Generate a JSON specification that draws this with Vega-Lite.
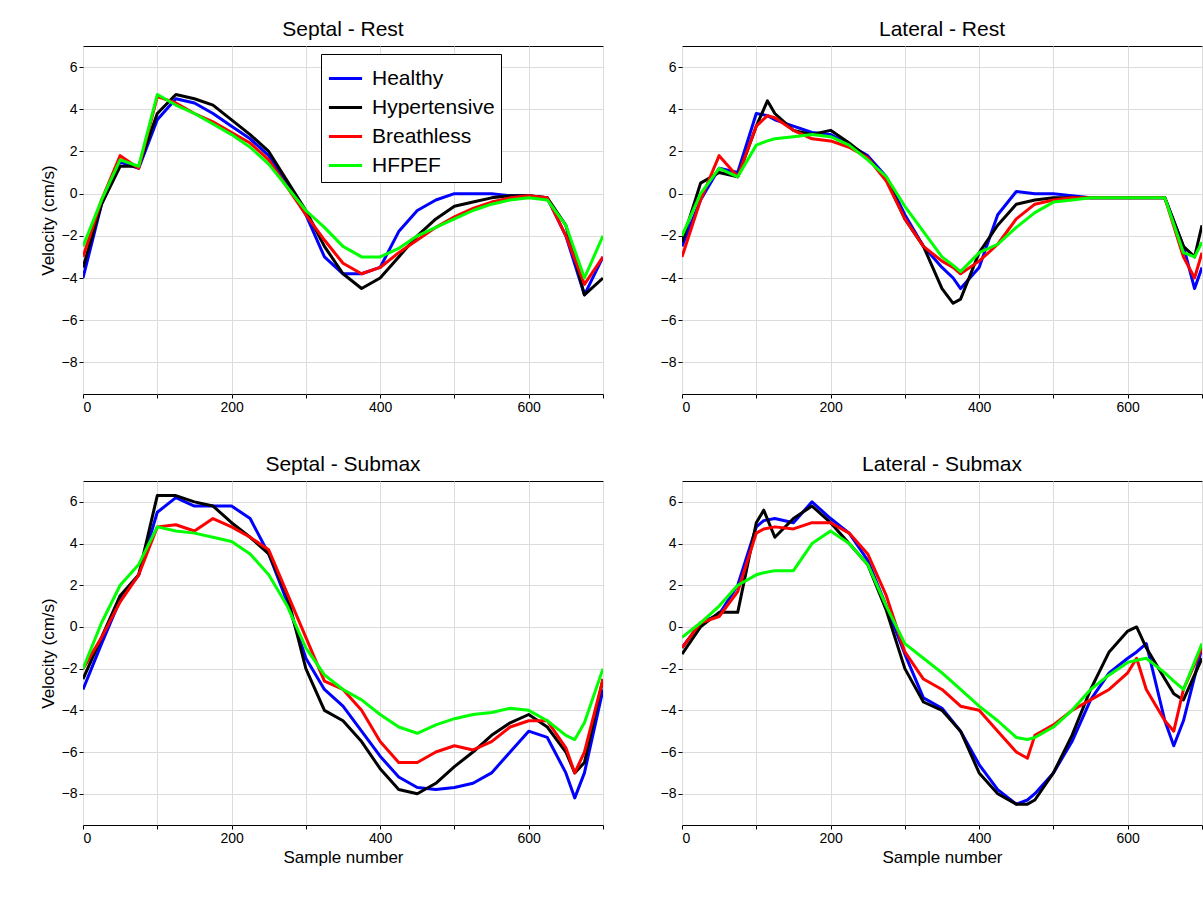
{
  "$schema": "https://vega.github.io/schema/vega-lite/v6.json",
  "padding": {"left": 38, "top": 18, "right": 0, "bottom": 0},
  "spacing": 38,
  "config": {
    "font": "Liberation Sans",
    "view": {"stroke": "#000", "strokeWidth": 1},
    "title": {"fontSize": 21, "fontWeight": "normal", "offset": 6},
    "axis": {"labelFontSize": 14, "titleFontSize": 17, "titleFontWeight": "normal", "gridColor": "#dcdcdc", "domain": false, "tickColor": "#000", "tickSize": 4, "labelColor": "#000"},
    "concat": {"spacing": 55},
    "line": {"strokeWidth": 3, "strokeJoin": "round"}
  },
  "data": {"values": [
    {"p":"SR","x":0,"Healthy":-4,"Hypertensive":-3.5,"Breathless":-3,"HFPEF":-2.5},
    {"p":"SR","x":25,"Healthy":-0.5,"Hypertensive":-0.5,"Breathless":-0.3,"HFPEF":-0.3},
    {"p":"SR","x":50,"Healthy":1.5,"Hypertensive":1.3,"Breathless":1.8,"HFPEF":1.6},
    {"p":"SR","x":75,"Healthy":1.2,"Hypertensive":1.3,"Breathless":1.2,"HFPEF":1.3},
    {"p":"SR","x":100,"Healthy":3.5,"Hypertensive":3.8,"Breathless":4.6,"HFPEF":4.7},
    {"p":"SR","x":125,"Healthy":4.5,"Hypertensive":4.7,"Breathless":4.3,"HFPEF":4.2},
    {"p":"SR","x":150,"Healthy":4.3,"Hypertensive":4.5,"Breathless":3.8,"HFPEF":3.8},
    {"p":"SR","x":175,"Healthy":3.8,"Hypertensive":4.2,"Breathless":3.4,"HFPEF":3.3},
    {"p":"SR","x":200,"Healthy":3.2,"Hypertensive":3.5,"Breathless":2.9,"HFPEF":2.8},
    {"p":"SR","x":225,"Healthy":2.6,"Hypertensive":2.8,"Breathless":2.4,"HFPEF":2.2},
    {"p":"SR","x":250,"Healthy":1.8,"Hypertensive":2,"Breathless":1.6,"HFPEF":1.4},
    {"p":"SR","x":275,"Healthy":0.5,"Hypertensive":0.6,"Breathless":0.3,"HFPEF":0.3},
    {"p":"SR","x":300,"Healthy":-1,"Hypertensive":-0.8,"Breathless":-1,"HFPEF":-0.8},
    {"p":"SR","x":325,"Healthy":-3,"Hypertensive":-2.5,"Breathless":-2.2,"HFPEF":-1.6},
    {"p":"SR","x":350,"Healthy":-3.8,"Hypertensive":-3.8,"Breathless":-3.3,"HFPEF":-2.5},
    {"p":"SR","x":375,"Healthy":-3.8,"Hypertensive":-4.5,"Breathless":-3.8,"HFPEF":-3},
    {"p":"SR","x":400,"Healthy":-3.5,"Hypertensive":-4,"Breathless":-3.5,"HFPEF":-3},
    {"p":"SR","x":425,"Healthy":-1.8,"Hypertensive":-3,"Breathless":-2.8,"HFPEF":-2.6},
    {"p":"SR","x":450,"Healthy":-0.8,"Hypertensive":-2,"Breathless":-2.2,"HFPEF":-2},
    {"p":"SR","x":475,"Healthy":-0.3,"Hypertensive":-1.2,"Breathless":-1.6,"HFPEF":-1.6},
    {"p":"SR","x":500,"Healthy":0,"Hypertensive":-0.6,"Breathless":-1.1,"HFPEF":-1.2},
    {"p":"SR","x":525,"Healthy":0,"Hypertensive":-0.4,"Breathless":-0.7,"HFPEF":-0.8},
    {"p":"SR","x":550,"Healthy":0,"Hypertensive":-0.2,"Breathless":-0.4,"HFPEF":-0.5},
    {"p":"SR","x":575,"Healthy":-0.1,"Hypertensive":-0.1,"Breathless":-0.2,"HFPEF":-0.3},
    {"p":"SR","x":600,"Healthy":-0.1,"Hypertensive":-0.1,"Breathless":-0.1,"HFPEF":-0.2},
    {"p":"SR","x":625,"Healthy":-0.2,"Hypertensive":-0.2,"Breathless":-0.2,"HFPEF":-0.3},
    {"p":"SR","x":650,"Healthy":-2,"Hypertensive":-1.5,"Breathless":-2,"HFPEF":-1.5},
    {"p":"SR","x":675,"Healthy":-4.8,"Hypertensive":-4.8,"Breathless":-4.3,"HFPEF":-4},
    {"p":"SR","x":700,"Healthy":-3,"Hypertensive":-4,"Breathless":-3,"HFPEF":-2},

    {"p":"LR","x":0,"Healthy":-2.5,"Hypertensive":-2.3,"Breathless":-3,"HFPEF":-2},
    {"p":"LR","x":25,"Healthy":-0.3,"Hypertensive":0.5,"Breathless":-0.3,"HFPEF":0},
    {"p":"LR","x":50,"Healthy":1.2,"Hypertensive":1,"Breathless":1.8,"HFPEF":1.2},
    {"p":"LR","x":75,"Healthy":1,"Hypertensive":0.8,"Breathless":0.8,"HFPEF":0.8},
    {"p":"LR","x":100,"Healthy":3.8,"Hypertensive":3.2,"Breathless":3.2,"HFPEF":2.3},
    {"p":"LR","x":115,"Healthy":3.7,"Hypertensive":4.4,"Breathless":3.7,"HFPEF":2.5},
    {"p":"LR","x":125,"Healthy":3.5,"Hypertensive":3.8,"Breathless":3.6,"HFPEF":2.6},
    {"p":"LR","x":150,"Healthy":3.2,"Hypertensive":3,"Breathless":3,"HFPEF":2.7},
    {"p":"LR","x":175,"Healthy":2.9,"Hypertensive":2.8,"Breathless":2.6,"HFPEF":2.8},
    {"p":"LR","x":200,"Healthy":2.8,"Hypertensive":3,"Breathless":2.5,"HFPEF":2.7},
    {"p":"LR","x":225,"Healthy":2.3,"Hypertensive":2.4,"Breathless":2.2,"HFPEF":2.3},
    {"p":"LR","x":250,"Healthy":1.8,"Hypertensive":1.7,"Breathless":1.7,"HFPEF":1.6},
    {"p":"LR","x":275,"Healthy":0.8,"Hypertensive":0.7,"Breathless":0.6,"HFPEF":0.8},
    {"p":"LR","x":300,"Healthy":-1,"Hypertensive":-1.2,"Breathless":-1.2,"HFPEF":-0.6},
    {"p":"LR","x":325,"Healthy":-2.5,"Hypertensive":-2.5,"Breathless":-2.5,"HFPEF":-1.8},
    {"p":"LR","x":350,"Healthy":-3.5,"Hypertensive":-4.5,"Breathless":-3.2,"HFPEF":-3},
    {"p":"LR","x":365,"Healthy":-4,"Hypertensive":-5.2,"Breathless":-3.5,"HFPEF":-3.4},
    {"p":"LR","x":375,"Healthy":-4.5,"Hypertensive":-5,"Breathless":-3.8,"HFPEF":-3.7},
    {"p":"LR","x":400,"Healthy":-3.5,"Hypertensive":-2.8,"Breathless":-3.2,"HFPEF":-2.8},
    {"p":"LR","x":425,"Healthy":-1,"Hypertensive":-1.5,"Breathless":-2.4,"HFPEF":-2.4},
    {"p":"LR","x":450,"Healthy":0.1,"Hypertensive":-0.5,"Breathless":-1.2,"HFPEF":-1.6},
    {"p":"LR","x":475,"Healthy":0,"Hypertensive":-0.3,"Breathless":-0.5,"HFPEF":-0.9},
    {"p":"LR","x":500,"Healthy":0,"Hypertensive":-0.2,"Breathless":-0.3,"HFPEF":-0.4},
    {"p":"LR","x":525,"Healthy":-0.1,"Hypertensive":-0.2,"Breathless":-0.2,"HFPEF":-0.3},
    {"p":"LR","x":550,"Healthy":-0.2,"Hypertensive":-0.2,"Breathless":-0.2,"HFPEF":-0.2},
    {"p":"LR","x":575,"Healthy":-0.2,"Hypertensive":-0.2,"Breathless":-0.2,"HFPEF":-0.2},
    {"p":"LR","x":600,"Healthy":-0.2,"Hypertensive":-0.2,"Breathless":-0.2,"HFPEF":-0.2},
    {"p":"LR","x":625,"Healthy":-0.2,"Hypertensive":-0.2,"Breathless":-0.2,"HFPEF":-0.2},
    {"p":"LR","x":650,"Healthy":-0.2,"Hypertensive":-0.2,"Breathless":-0.2,"HFPEF":-0.2},
    {"p":"LR","x":675,"Healthy":-2.5,"Hypertensive":-2.5,"Breathless":-3,"HFPEF":-2.8},
    {"p":"LR","x":690,"Healthy":-4.5,"Hypertensive":-3,"Breathless":-4,"HFPEF":-3},
    {"p":"LR","x":700,"Healthy":-3.5,"Hypertensive":-1.5,"Breathless":-2.8,"HFPEF":-2.3},

    {"p":"SS","x":0,"Healthy":-3,"Hypertensive":-2.5,"Breathless":-2,"HFPEF":-2},
    {"p":"SS","x":25,"Healthy":-0.8,"Hypertensive":-0.5,"Breathless":-0.5,"HFPEF":0.2},
    {"p":"SS","x":50,"Healthy":1.3,"Hypertensive":1.5,"Breathless":1.2,"HFPEF":2},
    {"p":"SS","x":75,"Healthy":2.5,"Hypertensive":2.5,"Breathless":2.5,"HFPEF":3},
    {"p":"SS","x":100,"Healthy":5.5,"Hypertensive":6.3,"Breathless":4.8,"HFPEF":4.8},
    {"p":"SS","x":125,"Healthy":6.2,"Hypertensive":6.3,"Breathless":4.9,"HFPEF":4.6},
    {"p":"SS","x":150,"Healthy":5.8,"Hypertensive":6,"Breathless":4.6,"HFPEF":4.5},
    {"p":"SS","x":175,"Healthy":5.8,"Hypertensive":5.8,"Breathless":5.2,"HFPEF":4.3},
    {"p":"SS","x":200,"Healthy":5.8,"Hypertensive":5,"Breathless":4.8,"HFPEF":4.1},
    {"p":"SS","x":225,"Healthy":5.2,"Hypertensive":4.3,"Breathless":4.3,"HFPEF":3.5},
    {"p":"SS","x":250,"Healthy":3.5,"Hypertensive":3.5,"Breathless":3.7,"HFPEF":2.5},
    {"p":"SS","x":275,"Healthy":1.2,"Hypertensive":1.5,"Breathless":1.6,"HFPEF":1},
    {"p":"SS","x":300,"Healthy":-1.5,"Hypertensive":-2,"Breathless":-0.5,"HFPEF":-1},
    {"p":"SS","x":325,"Healthy":-3,"Hypertensive":-4,"Breathless":-2.6,"HFPEF":-2.3},
    {"p":"SS","x":350,"Healthy":-3.8,"Hypertensive":-4.5,"Breathless":-3,"HFPEF":-3},
    {"p":"SS","x":375,"Healthy":-5,"Hypertensive":-5.5,"Breathless":-4,"HFPEF":-3.5},
    {"p":"SS","x":400,"Healthy":-6.2,"Hypertensive":-6.8,"Breathless":-5.5,"HFPEF":-4.2},
    {"p":"SS","x":425,"Healthy":-7.2,"Hypertensive":-7.8,"Breathless":-6.5,"HFPEF":-4.8},
    {"p":"SS","x":450,"Healthy":-7.7,"Hypertensive":-8,"Breathless":-6.5,"HFPEF":-5.1},
    {"p":"SS","x":475,"Healthy":-7.8,"Hypertensive":-7.5,"Breathless":-6,"HFPEF":-4.7},
    {"p":"SS","x":500,"Healthy":-7.7,"Hypertensive":-6.7,"Breathless":-5.7,"HFPEF":-4.4},
    {"p":"SS","x":525,"Healthy":-7.5,"Hypertensive":-6,"Breathless":-5.9,"HFPEF":-4.2},
    {"p":"SS","x":550,"Healthy":-7,"Hypertensive":-5.2,"Breathless":-5.5,"HFPEF":-4.1},
    {"p":"SS","x":575,"Healthy":-6,"Hypertensive":-4.6,"Breathless":-4.8,"HFPEF":-3.9},
    {"p":"SS","x":600,"Healthy":-5,"Hypertensive":-4.2,"Breathless":-4.5,"HFPEF":-4},
    {"p":"SS","x":625,"Healthy":-5.3,"Hypertensive":-4.8,"Breathless":-4.5,"HFPEF":-4.5},
    {"p":"SS","x":650,"Healthy":-7,"Hypertensive":-6,"Breathless":-5.8,"HFPEF":-5.2},
    {"p":"SS","x":662,"Healthy":-8.2,"Hypertensive":-7,"Breathless":-7,"HFPEF":-5.4},
    {"p":"SS","x":675,"Healthy":-7,"Hypertensive":-6.5,"Breathless":-6,"HFPEF":-4.6},
    {"p":"SS","x":700,"Healthy":-3,"Hypertensive":-2.5,"Breathless":-2.5,"HFPEF":-2},

    {"p":"LS","x":0,"Healthy":-1,"Hypertensive":-1.3,"Breathless":-1,"HFPEF":-0.5},
    {"p":"LS","x":25,"Healthy":0.2,"Hypertensive":0,"Breathless":0.2,"HFPEF":0.2},
    {"p":"LS","x":50,"Healthy":0.6,"Hypertensive":0.7,"Breathless":0.5,"HFPEF":1},
    {"p":"LS","x":75,"Healthy":2,"Hypertensive":0.7,"Breathless":1.7,"HFPEF":2},
    {"p":"LS","x":100,"Healthy":4.8,"Hypertensive":5,"Breathless":4.5,"HFPEF":2.5},
    {"p":"LS","x":110,"Healthy":5.1,"Hypertensive":5.6,"Breathless":4.7,"HFPEF":2.6},
    {"p":"LS","x":125,"Healthy":5.2,"Hypertensive":4.3,"Breathless":4.8,"HFPEF":2.7},
    {"p":"LS","x":150,"Healthy":5,"Hypertensive":5.2,"Breathless":4.7,"HFPEF":2.7},
    {"p":"LS","x":175,"Healthy":6,"Hypertensive":5.8,"Breathless":5,"HFPEF":4},
    {"p":"LS","x":200,"Healthy":5.2,"Hypertensive":5,"Breathless":5,"HFPEF":4.6},
    {"p":"LS","x":225,"Healthy":4.5,"Hypertensive":4,"Breathless":4.5,"HFPEF":4},
    {"p":"LS","x":250,"Healthy":3.2,"Hypertensive":3,"Breathless":3.5,"HFPEF":3},
    {"p":"LS","x":275,"Healthy":1,"Hypertensive":0.8,"Breathless":1.5,"HFPEF":1},
    {"p":"LS","x":300,"Healthy":-1.3,"Hypertensive":-2,"Breathless":-1.2,"HFPEF":-0.8},
    {"p":"LS","x":325,"Healthy":-3.4,"Hypertensive":-3.6,"Breathless":-2.5,"HFPEF":-1.5},
    {"p":"LS","x":350,"Healthy":-3.9,"Hypertensive":-4,"Breathless":-3,"HFPEF":-2.2},
    {"p":"LS","x":375,"Healthy":-5,"Hypertensive":-5,"Breathless":-3.8,"HFPEF":-3},
    {"p":"LS","x":400,"Healthy":-6.6,"Hypertensive":-7,"Breathless":-4,"HFPEF":-3.8},
    {"p":"LS","x":425,"Healthy":-7.8,"Hypertensive":-8,"Breathless":-5,"HFPEF":-4.5},
    {"p":"LS","x":450,"Healthy":-8.5,"Hypertensive":-8.5,"Breathless":-6,"HFPEF":-5.3},
    {"p":"LS","x":465,"Healthy":-8.3,"Hypertensive":-8.5,"Breathless":-6.3,"HFPEF":-5.4},
    {"p":"LS","x":475,"Healthy":-8,"Hypertensive":-8.3,"Breathless":-5.2,"HFPEF":-5.3},
    {"p":"LS","x":500,"Healthy":-7,"Hypertensive":-7,"Breathless":-4.7,"HFPEF":-4.8},
    {"p":"LS","x":525,"Healthy":-5.5,"Hypertensive":-5.2,"Breathless":-4,"HFPEF":-4},
    {"p":"LS","x":550,"Healthy":-3.5,"Hypertensive":-3,"Breathless":-3.5,"HFPEF":-3},
    {"p":"LS","x":575,"Healthy":-2.2,"Hypertensive":-1.2,"Breathless":-3,"HFPEF":-2.3},
    {"p":"LS","x":600,"Healthy":-1.5,"Hypertensive":-0.2,"Breathless":-2.2,"HFPEF":-1.7},
    {"p":"LS","x":612,"Healthy":-1.2,"Hypertensive":0,"Breathless":-1.5,"HFPEF":-1.6},
    {"p":"LS","x":625,"Healthy":-0.8,"Hypertensive":-1,"Breathless":-3,"HFPEF":-1.5},
    {"p":"LS","x":650,"Healthy":-4.5,"Hypertensive":-2.5,"Breathless":-4.5,"HFPEF":-2.2},
    {"p":"LS","x":662,"Healthy":-5.7,"Hypertensive":-3.2,"Breathless":-5,"HFPEF":-2.6},
    {"p":"LS","x":675,"Healthy":-4.5,"Hypertensive":-3.5,"Breathless":-3,"HFPEF":-3},
    {"p":"LS","x":700,"Healthy":-1,"Hypertensive":-1.5,"Breathless":-1,"HFPEF":-0.8}
  ]},
  "transform": [
    {"fold": ["Healthy", "Hypertensive", "Breathless", "HFPEF"], "as": ["group", "v"]}
  ],
  "resolve": {"legend": {"color": "independent"}},
  "vconcat": [
    {"hconcat": [
      {
        "title": "Septal - Rest", "width": 520, "height": 348,
        "transform": [{"filter": "datum.p == 'SR'"}],
        "mark": {"type": "line", "clip": true},
        "encoding": {
          "x": {"field": "x", "type": "quantitative", "scale": {"domain": [0, 700]}, "axis": {"title": null, "values": [0,100,200,300,400,500,600,700], "labelExpr": "datum.value % 200 == 0 ? datum.label : ''"}},
          "y": {"field": "v", "type": "quantitative", "scale": {"domain": [-9.5, 7], "nice": false}, "axis": {"title": "Velocity (cm/s)", "values": [-8,-6,-4,-2,0,2,4,6]}},
          "color": {"field": "group", "type": "nominal", "sort": ["Healthy", "Hypertensive", "Breathless", "HFPEF"],
            "scale": {"domain": ["Healthy", "Hypertensive", "Breathless", "HFPEF"], "range": ["#0000ff", "#000000", "#ff0000", "#00ff00"]},
            "legend": {"title": null, "orient": "none", "legendX": 238, "legendY": 8, "symbolType": "stroke", "symbolStrokeWidth": 14, "symbolSize": 1100, "labelFontSize": 21, "labelColor": "#000", "rowPadding": 0, "strokeColor": "#000", "fillColor": "#fff", "padding": 6, "labelOffset": 8}}
        }
      },
      {
        "title": "Lateral - Rest", "width": 520, "height": 348,
        "transform": [{"filter": "datum.p == 'LR'"}],
        "mark": {"type": "line", "clip": true},
        "encoding": {
          "x": {"field": "x", "type": "quantitative", "scale": {"domain": [0, 700]}, "axis": {"title": null, "values": [0,100,200,300,400,500,600,700], "labelExpr": "datum.value % 200 == 0 ? datum.label : ''"}},
          "y": {"field": "v", "type": "quantitative", "scale": {"domain": [-9.5, 7], "nice": false}, "axis": {"title": null, "values": [-8,-6,-4,-2,0,2,4,6]}},
          "color": {"field": "group", "type": "nominal", "scale": {"domain": ["Healthy", "Hypertensive", "Breathless", "HFPEF"], "range": ["#0000ff", "#000000", "#ff0000", "#00ff00"]}, "legend": null}
        }
      }
    ]},
    {"hconcat": [
      {
        "title": "Septal - Submax", "width": 520, "height": 344,
        "transform": [{"filter": "datum.p == 'SS'"}],
        "mark": {"type": "line", "clip": true},
        "encoding": {
          "x": {"field": "x", "type": "quantitative", "scale": {"domain": [0, 700]}, "axis": {"title": "Sample number", "values": [0,100,200,300,400,500,600,700], "labelExpr": "datum.value % 200 == 0 ? datum.label : ''"}},
          "y": {"field": "v", "type": "quantitative", "scale": {"domain": [-9.5, 7], "nice": false}, "axis": {"title": "Velocity (cm/s)", "values": [-8,-6,-4,-2,0,2,4,6]}},
          "color": {"field": "group", "type": "nominal", "scale": {"domain": ["Healthy", "Hypertensive", "Breathless", "HFPEF"], "range": ["#0000ff", "#000000", "#ff0000", "#00ff00"]}, "legend": null}
        }
      },
      {
        "title": "Lateral - Submax", "width": 520, "height": 344,
        "transform": [{"filter": "datum.p == 'LS'"}],
        "mark": {"type": "line", "clip": true},
        "encoding": {
          "x": {"field": "x", "type": "quantitative", "scale": {"domain": [0, 700]}, "axis": {"title": "Sample number", "values": [0,100,200,300,400,500,600,700], "labelExpr": "datum.value % 200 == 0 ? datum.label : ''"}},
          "y": {"field": "v", "type": "quantitative", "scale": {"domain": [-9.5, 7], "nice": false}, "axis": {"title": null, "values": [-8,-6,-4,-2,0,2,4,6]}},
          "color": {"field": "group", "type": "nominal", "scale": {"domain": ["Healthy", "Hypertensive", "Breathless", "HFPEF"], "range": ["#0000ff", "#000000", "#ff0000", "#00ff00"]}, "legend": null}
        }
      }
    ]}
  ]
}
